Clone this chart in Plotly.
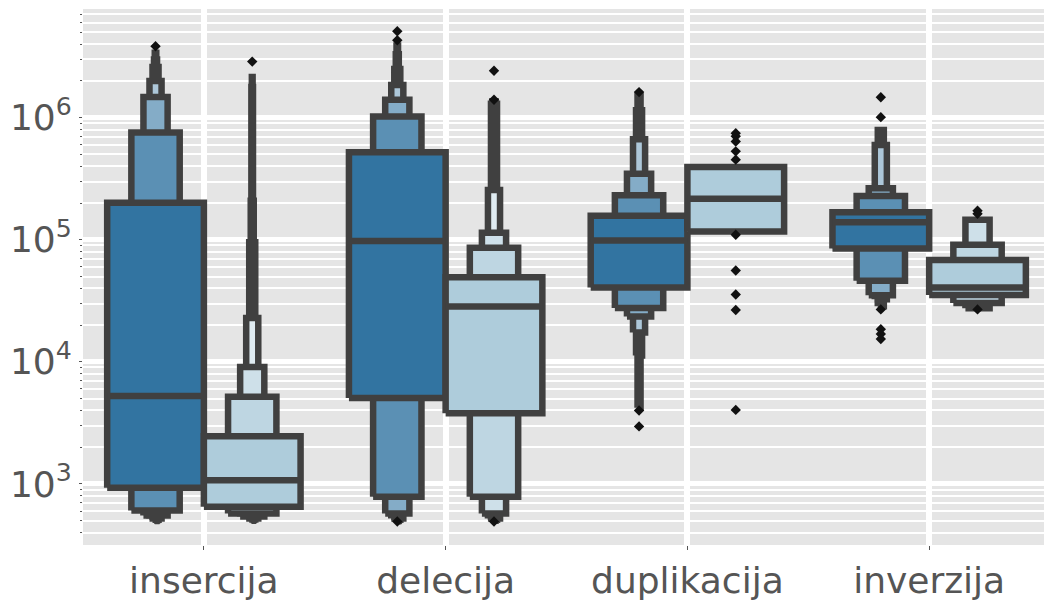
import plotly.graph_objects as go

categories = ["insercija", "delecija", "duplikacija", "inverzija"]
tick_values = [1e3, 1e4, 1e5, 1e6]
tick_labels = ["10<sup>3</sup>", "10<sup>4</sup>", "10<sup>5</sup>", "10<sup>6</sup>"]

# Letter values per category: index 0 = quartiles, then octiles, sixteenths, ...
dark_upper = [
    [2.01e5, 7.55e5, 1.48e6, 2.0e6, 2.6e6, 3.0e6, 3.4e6],
    [5.2e5, 1.02e6, 1.4e6, 1.85e6, 2.5e6, 3.3e6, 3.9e6],
    [1.57e5, 2.32e5, 3.47e5, 6.66e5, 1.15e6, 1.52e6],
    [1.68e5, 2.28e5, 2.64e5, 5.96e5, 7.93e5],
]
dark_lower = [
    [930, 605, 551, 521, 508, 502, 498],
    [5050, 785, 572, 522, 508, 500, 495],
    [40600, 27600, 23500, 17400, 11300, 4200],
    [84700, 46100, 35100, 32600, 28600],
]
dark_median = [5250, 97500, 98600, 1.39e5]
dark_outliers = [
    [3.84e6],
    [4.3e6, 5.1e6, 493],
    [1.62e6, 4000, 2960],
    [1.47e6, 1.01e6, 26900, 18500, 16900, 15400],
]

light_upper = [
    [2460, 5190, 9080, 22900, 95500, 2.09e5, 1.78e6, 2.15e6],
    [49200, 86100, 1.14e5, 2.56e5, 1.30e6, 1.36e6],
    [3.95e5],
    [68200, 91200, 1.46e5],
]
light_lower = [
    [652, 572, 541, 521, 512, 506, 503, 500],
    [3800, 785, 572, 522, 508, 500],
    [1.17e5],
    [35300, 30300, 27500],
]
light_median = [1071, 28400, 2.17e5, 40700]
light_outliers = [
    [2.88e6],
    [1.40e6, 2.42e6, 493],
    [7.45e5, 7.03e5, 6.38e5, 5.30e5, 4.53e5, 1.10e5, 5.60e4, 3.56e4, 2.66e4, 4040],
    [1.73e5, 1.63e5, 26900],
]

EDGE = "#404040"
LW = 6.5
BOX_WIDTH = 0.4
FONT = "DejaVu Sans"
TEXT = "#555555"
FONT_SIZE = 36


def shade(base, level):
    """Blend the base colour towards white, lighter for outer letter values."""
    frac = min(0.2 * level, 0.85)
    r, g, b = (int(round(c + frac * (255 - c))) for c in base)
    return f"rgb({r},{g},{b})"


series = [
    dict(offset=-0.2, base=(50, 116, 161), upper=dark_upper, lower=dark_lower,
         median=dark_median, outliers=dark_outliers),
    dict(offset=0.2, base=(174, 204, 219), upper=light_upper, lower=light_lower,
         median=light_median, outliers=light_outliers),
]

fig = go.Figure()

for ci, cat in enumerate(categories):
    for s in series:
        xc = ci + s["offset"]
        hi = s["upper"][ci]
        lo = s["lower"][ci]
        # outermost (narrowest) boxes first so the wider ones sit on top
        for level in reversed(range(len(hi))):
            half = BOX_WIDTH / 2 * 0.5 ** level
            fig.add_trace(go.Scatter(
                x=[xc - half, xc + half, xc + half, xc - half, xc - half],
                y=[lo[level], lo[level], hi[level], hi[level], lo[level]],
                mode="lines", fill="toself", fillcolor=shade(s["base"], level),
                line=dict(color=EDGE, width=LW), hoverinfo="skip", showlegend=False,
            ))
        half0 = BOX_WIDTH / 2
        fig.add_trace(go.Scatter(
            x=[xc - half0, xc + half0], y=[s["median"][ci]] * 2,
            mode="lines", line=dict(color=EDGE, width=LW),
            hoverinfo="skip", showlegend=False,
        ))

for ci, cat in enumerate(categories):
    for s in series:
        pts = s["outliers"][ci]
        fig.add_trace(go.Scatter(
            x=[ci + s["offset"]] * len(pts), y=pts, mode="markers",
            marker=dict(symbol="diamond", size=8, color="#111111", line=dict(width=0)),
            hoverinfo="skip", showlegend=False,
        ))

minor_vals = [m * 10 ** k for k in range(2, 7) for m in range(2, 10)]

fig.update_layout(
    width=1044, height=601,
    margin=dict(l=83, r=0, t=9, b=49),
    paper_bgcolor="white", plot_bgcolor="#E5E5E5",
    font=dict(family=FONT, color=TEXT, size=FONT_SIZE),
    xaxis=dict(
        range=[-0.5, 3.475], tickmode="array", tickvals=list(range(len(categories))),
        ticktext=categories, showgrid=True, gridcolor="white", gridwidth=6,
        zeroline=False, showline=False, ticks="outside", ticklen=4, tickcolor=TEXT,
        tickfont=dict(family=FONT, size=FONT_SIZE, color=TEXT),
    ),
    yaxis=dict(
        type="log", range=[2.5, 6.89], tickmode="array", tickvals=tick_values,
        ticktext=tick_labels, showgrid=True, gridcolor="white", gridwidth=4.5,
        zeroline=False, showline=False, ticks="outside", ticklen=3, tickcolor=TEXT,
        tickfont=dict(family=FONT, size=FONT_SIZE, color=TEXT),
        minor=dict(tickvals=minor_vals, ticks="outside", ticklen=2, tickcolor=TEXT,
                   showgrid=True, gridcolor="white", gridwidth=1.5),
    ),
)

fig.write_html("out.html")
